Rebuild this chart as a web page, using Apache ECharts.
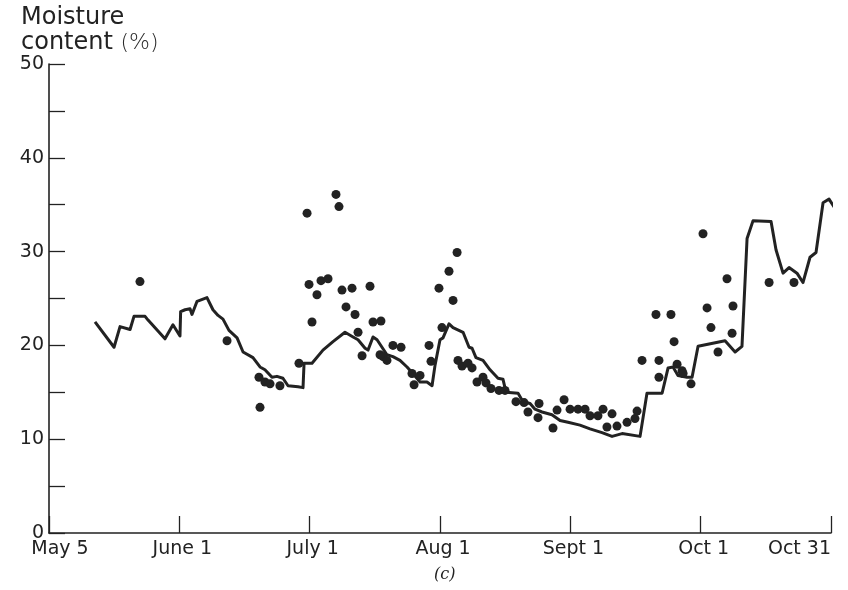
<!DOCTYPE html>
<html>
<head>
<meta charset="utf-8">
<script src="https://cdn.jsdelivr.net/npm/echarts@6/dist/echarts.min.js"></script>
<style>
html,body{margin:0;padding:0;background:#fff;}
#chart{width:848px;height:590px;}
</style>
</head>
<body>
<div id="chart"></div>
<script>
// x positions are in "month tick" units: 0 = May 5, 1 = June 1, ..., 6 = Oct 31
var xTickLabels = ['May 5', 'June 1', 'July 1', 'Aug 1', 'Sept 1', 'Oct 1', 'Oct 31'];
var yTickLabels = [0, 10, 20, 30, 40, 50];

// Solid line (calculated moisture content)
var lineX = [0.353,0.499,0.545,0.622,0.652,0.737,0.760,0.890,0.951,1.005,1.010,1.044,1.082,1.097,1.136,1.212,1.258,1.297,1.335,1.381,1.443,1.489,1.565,1.619,1.657,1.711,1.749,1.795,1.834,1.911,1.926,1.949,1.957,2.018,2.102,2.179,2.271,2.333,2.371,2.425,2.448,2.486,2.517,2.593,2.639,2.693,2.747,2.785,2.847,2.900,2.939,2.962,3.000,3.023,3.069,3.100,3.177,3.223,3.246,3.276,3.330,3.384,3.445,3.483,3.507,3.599,3.637,3.691,3.729,3.783,3.859,3.921,3.982,4.074,4.151,4.243,4.320,4.397,4.535,4.588,4.704,4.750,4.788,4.826,4.895,4.934,4.980,5.187,5.264,5.317,5.356,5.402,5.540,5.578,5.632,5.678,5.739,5.785,5.839,5.885,5.939,5.985,6.031];
var lineY = [22.5,19.8,22.0,21.7,23.1,23.1,22.7,20.7,22.2,21.0,23.6,23.8,23.9,23.3,24.7,25.1,23.8,23.2,22.8,21.6,20.8,19.3,18.7,17.7,17.4,16.6,16.7,16.5,15.7,15.6,15.7,15.5,18.1,18.1,19.5,20.4,21.4,20.9,20.6,19.7,19.5,20.9,20.6,19.0,18.8,18.4,17.7,17.1,16.1,16.1,15.7,17.9,20.6,20.8,22.3,21.9,21.4,19.8,19.7,18.7,18.4,17.4,16.5,16.4,15.0,14.9,14.0,13.8,13.2,12.9,12.6,12.0,11.8,11.5,11.1,10.7,10.3,10.6,10.3,14.9,14.9,17.6,17.7,16.8,16.6,16.6,19.9,20.5,19.3,19.9,31.4,33.3,33.2,30.2,27.7,28.3,27.7,26.7,29.4,29.9,35.2,35.6,34.6];

// Dots (measured moisture content)
var dotX = [0.698,1.366,1.619,1.611,1.657,1.696,1.772,1.918,1.980,1.995,2.018,2.056,2.087,2.141,2.202,2.225,2.248,2.325,2.279,2.348,2.371,2.402,2.463,2.486,2.547,2.540,2.563,2.593,2.639,2.701,2.785,2.847,2.801,2.916,2.931,2.992,3.069,3.131,3.100,3.015,3.138,3.169,3.215,3.246,3.284,3.330,3.353,3.391,3.453,3.499,3.583,3.645,3.675,3.760,3.752,3.867,3.898,3.952,3.998,4.059,4.113,4.151,4.212,4.251,4.320,4.281,4.358,4.435,4.496,4.512,4.550,4.680,4.680,4.657,4.772,4.796,4.819,4.857,4.865,4.926,5.018,5.049,5.079,5.133,5.202,5.248,5.241,5.525,5.716];
var dotY = [26.8,20.5,13.4,16.6,16.1,15.9,15.7,18.1,34.1,26.5,22.5,25.4,26.9,27.1,36.1,34.8,25.9,26.1,24.1,23.3,21.4,18.9,26.3,22.5,22.6,19.0,18.8,18.4,20.0,19.8,17.0,16.8,15.8,20.0,18.3,26.1,27.9,29.9,24.8,21.9,18.4,17.8,18.1,17.6,16.1,16.6,16.0,15.4,15.2,15.2,14.0,13.9,12.9,13.8,12.3,11.2,13.1,14.2,13.2,13.2,13.2,12.5,12.5,13.2,12.7,11.3,11.4,11.8,12.2,13.0,18.4,18.4,16.6,23.3,23.3,20.4,18.0,17.3,17.0,15.9,31.9,24.0,21.9,19.3,27.1,24.2,21.3,26.7,26.7];

var lineData = lineX.map(function (x, i) { return [x, lineY[i]]; });
var dotData = dotX.map(function (x, i) { return [x, dotY[i]]; });

var ink = '#222222';
var font = 'DejaVu Sans';

var chart = echarts.init(document.getElementById('chart'), null, { renderer: 'canvas' });
chart.setOption({
  backgroundColor: '#ffffff',
  animation: false,
  grid: { left: 49, right: 17, top: 64, bottom: 57, containLabel: false },
  xAxis: {
    type: 'value', min: 0, max: 6, interval: 1,
    axisLine: { show: true, lineStyle: { color: ink, width: 1.6 } },
    axisTick: { show: true, inside: true, length: 17, lineStyle: { color: ink, width: 1.3 } },
    splitLine: { show: false },
    axisLabel: {
      color: ink, fontFamily: font, fontSize: 19, margin: 7,
      alignMaxLabel: 'right',
      formatter: function (v) {
        var i = Math.round(v);
        if (i === 0) return '{first|' + xTickLabels[0] + '}';
        if (i === 6) return xTickLabels[6];
        return '{mid|' + (xTickLabels[i] || '') + '}';
      },
      rich: {
        first: { fontFamily: font, fontSize: 19, color: ink, padding: [0, 0, 0, 22] },
        mid: { fontFamily: font, fontSize: 19, color: ink, padding: [0, 0, 0, 6] }
      }
    }
  },
  yAxis: {
    type: 'value', min: 0, max: 50, interval: 5,
    axisLine: { show: true, lineStyle: { color: ink, width: 1.6 } },
    axisTick: { show: true, inside: true, length: 16, lineStyle: { color: ink, width: 1.3 } },
    splitLine: { show: false },
    axisLabel: {
      color: ink, fontFamily: font, fontSize: 19, margin: 5,
      formatter: function (v) { return yTickLabels.indexOf(v) >= 0 ? String(v) : ''; }
    }
  },
  graphic: [
    {
      type: 'text', left: 21, top: 6,
      style: { text: 'Moisture', fontFamily: font, fontSize: 24, fill: ink }
    },
    {
      type: 'text', left: 21, top: 31,
      style: {
        text: '{a|content }{b|(%)}',
        fill: ink,
        rich: {
          a: { fontFamily: font, fontSize: 24, fill: ink },
          b: { fontFamily: font, fontSize: 22, fontWeight: 'lighter', fill: '#2a2a2a' }
        }
      }
    },
    {
      type: 'text', left: 434, top: 567,
      style: { text: '(c)', fontFamily: 'DejaVu Serif', fontStyle: 'italic', fontSize: 16, fill: ink }
    }
  ],
  series: [
    {
      type: 'line', data: lineData, showSymbol: false, symbol: 'none', clip: false,
      lineStyle: { color: ink, width: 3, join: 'round' }, z: 3
    },
    {
      type: 'scatter', data: dotData, symbol: 'circle', symbolSize: 9, clip: false,
      itemStyle: { color: ink, opacity: 1 }, z: 4
    }
  ]
});
</script>
</body>
</html>
